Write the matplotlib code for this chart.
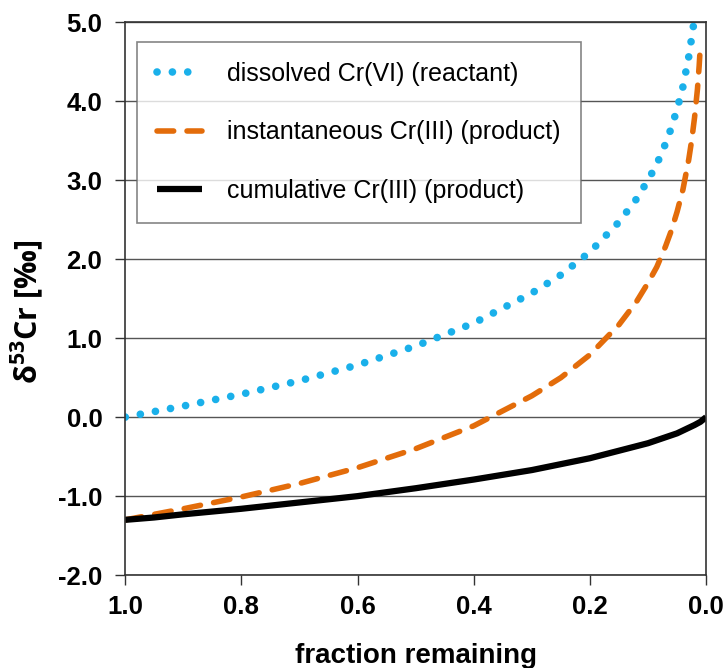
import matplotlib
matplotlib.use("Agg")
import matplotlib.pyplot as plt

plt.rcParams['font.family'] = ['Liberation Sans', 'DejaVu Sans']
plt.rcParams['mathtext.fontset'] = 'custom'
plt.rcParams['mathtext.bf'] = 'Open Sans:bold'
plt.rcParams['mathtext.rm'] = 'Open Sans:bold'

# values
f_dissolved = [1.0, 0.9, 0.8, 0.7, 0.6, 0.5, 0.4, 0.3, 0.25, 0.2, 0.15, 0.12, 0.1,
               0.085, 0.07, 0.06, 0.05, 0.04, 0.035, 0.03, 0.025, 0.021]
d_dissolved = [0.0, 0.14, 0.29, 0.46, 0.66, 0.90, 1.19, 1.57, 1.80, 2.09, 2.47, 2.76, 3.0,
               3.2, 3.46, 3.66, 3.9, 4.18, 4.37, 4.56, 4.8, 5.0]

f_inst = [1.0, 0.9, 0.8, 0.7, 0.6, 0.5, 0.4, 0.3, 0.25, 0.2, 0.15, 0.12, 0.1, 0.085,
          0.07, 0.06, 0.05, 0.04, 0.035, 0.03, 0.025, 0.02, 0.015, 0.012, 0.01]
d_inst = [-1.3, -1.16, -1.01, -0.84, -0.64, -0.40, -0.11, 0.27, 0.50, 0.79, 1.17, 1.46, 1.70, 1.90,
          2.16, 2.36, 2.6, 2.88, 3.07, 3.26, 3.5, 3.79, 4.15, 4.45, 4.7]

f_cum = [1.0, 0.95, 0.9, 0.8, 0.7, 0.6, 0.5, 0.4, 0.3, 0.2, 0.1, 0.05, 0.02, 0.01, 0.0]
d_cum = [-1.3, -1.27, -1.23, -1.16, -1.08, -1.0, -0.90, -0.79, -0.67, -0.52, -0.33, -0.205, -0.10, -0.06, 0.0]

labels = ["dissolved Cr(VI) (reactant)",
          "instantaneous Cr(III) (product)",
          "cumulative Cr(III) (product)"]
xticks = [1.0, 0.8, 0.6, 0.4, 0.2, 0.0]
yticks = [-2, -1, 0, 1, 2, 3, 4, 5]

fig = plt.figure(figsize=(7.28, 6.68), dpi=100)
ax = fig.add_axes([0.172, 0.139, 0.798, 0.828])

ax.plot(f_dissolved, d_dissolved, color='#1ab0ea', lw=5.5,
        linestyle=(0, (0.01, 2.0)), dash_capstyle='round', label=labels[0])
ax.plot(f_inst, d_inst, color='#e36c0a', lw=4,
        linestyle=(0, (3.0, 2.4)), dash_capstyle='round', label=labels[1])
ax.plot(f_cum, d_cum, color='black', lw=4.5, solid_capstyle='butt', label=labels[2])

ax.set_xlim(1.0, 0.0)
ax.set_ylim(-2.0, 5.0)
ax.set_xticks(xticks)
ax.set_yticks(yticks)
ax.set_xticklabels([f"{v:.1f}" for v in xticks])
ax.set_yticklabels([f"{v:.1f}" for v in yticks])
ax.grid(axis='y', color='#555555', lw=1)
ax.set_axisbelow(True)
for s in ax.spines.values():
    s.set_color('#333333')
    s.set_linewidth(1.2)
ax.tick_params(axis='y', length=7.5, width=1, color='#333333', labelsize=18.5, pad=9)
ax.tick_params(axis='x', length=7.5, width=1, color='#333333', labelsize=18.5, pad=7)
for t in ax.get_xticklabels() + ax.get_yticklabels():
    t.set_fontweight('bold')

ax.set_xlabel("fraction remaining", fontsize=20, fontweight='bold', labelpad=17)
ax.set_ylabel(r"δ$^{\mathbf{53}}$Cr [‰]", fontsize=22, fontweight='bold',
              family=['Open Sans', 'DejaVu Sans'])
ax.yaxis.set_label_coords(-0.138, 0.477)

leg = ax.legend(loc='upper left', bbox_to_anchor=(0.0207, 0.964), fontsize=18,
                frameon=True, fancybox=False, edgecolor='#666666', borderaxespad=0,
                handlelength=1.8, labelspacing=1.38, borderpad=0.8, handletextpad=1.0)
leg.get_frame().set_linewidth(1.2)

fig.savefig("out.png", dpi=100)
